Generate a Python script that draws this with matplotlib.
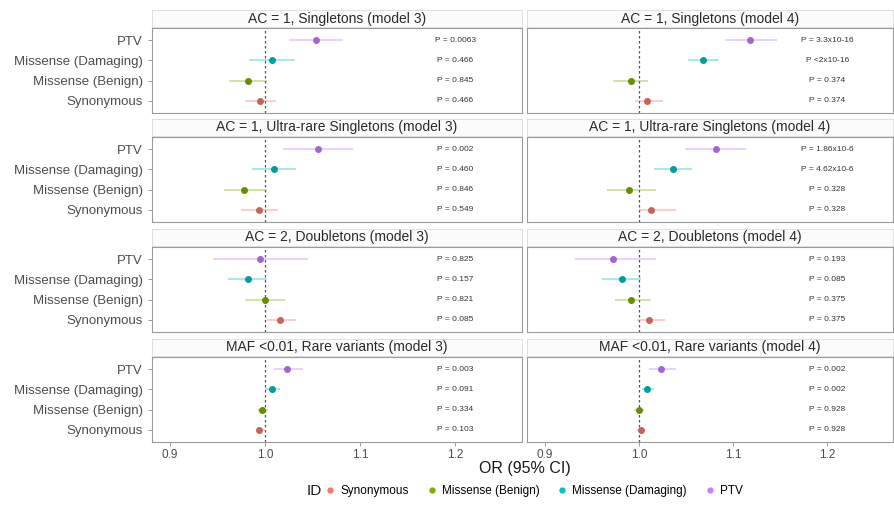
import matplotlib
matplotlib.use("Agg")
import matplotlib.pyplot as plt
from matplotlib.lines import Line2D
from matplotlib.colors import to_rgb

plt.rcParams['font.family'] = ['Liberation Sans', 'DejaVu Sans']

# categories, bottom to top
categories = ["Synonymous", "Missense (Benign)", "Missense (Damaging)", "PTV"]
colors = ["#F8766D", "#7CAE00", "#00BFC4", "#C77CFF"]

titles_m3 = ["AC = 1, Singletons (model 3)",
             "AC = 1, Ultra-rare Singletons (model 3)",
             "AC = 2, Doubletons (model 3)",
             "MAF <0.01, Rare variants (model 3)"]
titles_m4 = ["AC = 1, Singletons (model 4)",
             "AC = 1, Ultra-rare Singletons (model 4)",
             "AC = 2, Doubletons (model 4)",
             "MAF <0.01, Rare variants (model 4)"]

# odds ratios (Syn, Benign, Damaging, PTV)
or_single_m3 = [0.995, 0.982, 1.007, 1.053]
lo_single_m3 = [0.979, 0.962, 0.983, 1.025]
hi_single_m3 = [1.011, 1.002, 1.031, 1.082]
p_single_m3 = ["P = 0.466", "P = 0.845", "P = 0.466", "P = 0.0063"]

or_single_m4 = [1.009, 0.992, 1.068, 1.118]
lo_single_m4 = [0.996, 0.972, 1.052, 1.091]
hi_single_m4 = [1.026, 1.010, 1.085, 1.147]
p_single_m4 = ["P = 0.374", "P = 0.374", "P <2x10-16", "P = 3.3x10-16"]

or_ultra_m3 = [0.993, 0.978, 1.009, 1.055]
lo_ultra_m3 = [0.975, 0.957, 0.986, 1.019]
hi_ultra_m3 = [1.013, 1.002, 1.032, 1.092]
p_ultra_m3 = ["P = 0.549", "P = 0.846", "P = 0.460", "P = 0.002"]

or_ultra_m4 = [1.013, 0.989, 1.036, 1.082]
lo_ultra_m4 = [1.000, 0.966, 1.016, 1.049]
hi_ultra_m4 = [1.039, 1.018, 1.056, 1.114]
p_ultra_m4 = ["P = 0.328", "P = 0.328", "P = 4.62x10-6", "P = 1.86x10-6"]

or_double_m3 = [1.016, 1.000, 0.982, 0.995]
lo_double_m3 = [1.002, 0.979, 0.961, 0.945]
hi_double_m3 = [1.032, 1.021, 1.002, 1.045]
p_double_m3 = ["P = 0.085", "P = 0.821", "P = 0.157", "P = 0.825"]

or_double_m4 = [1.011, 0.992, 0.982, 0.972]
lo_double_m4 = [0.998, 0.974, 0.961, 0.932]
hi_double_m4 = [1.028, 1.013, 1.002, 1.018]
p_double_m4 = ["P = 0.375", "P = 0.375", "P = 0.085", "P = 0.193"]

or_rare_m3 = [0.994, 0.997, 1.007, 1.023]
lo_rare_m3 = [0.990, 0.992, 1.000, 1.009]
hi_rare_m3 = [1.000, 1.003, 1.016, 1.040]
p_rare_m3 = ["P = 0.103", "P = 0.334", "P = 0.091", "P = 0.003"]

or_rare_m4 = [1.002, 1.000, 1.009, 1.023]
lo_rare_m4 = [0.998, 0.995, 1.003, 1.011]
hi_rare_m4 = [1.005, 1.005, 1.016, 1.039]
p_rare_m4 = ["P = 0.928", "P = 0.928", "P = 0.002", "P = 0.002"]

left_panels = [(or_single_m3, lo_single_m3, hi_single_m3, p_single_m3),
               (or_ultra_m3, lo_ultra_m3, hi_ultra_m3, p_ultra_m3),
               (or_double_m3, lo_double_m3, hi_double_m3, p_double_m3),
               (or_rare_m3, lo_rare_m3, hi_rare_m3, p_rare_m3)]
right_panels = [(or_single_m4, lo_single_m4, hi_single_m4, p_single_m4),
                (or_ultra_m4, lo_ultra_m4, hi_ultra_m4, p_ultra_m4),
                (or_double_m4, lo_double_m4, hi_double_m4, p_double_m4),
                (or_rare_m4, lo_rare_m4, hi_rare_m4, p_rare_m4)]

W, H = 895, 505
fig = plt.figure(figsize=(W / 100, H / 100), dpi=100)


def rect(x0, y0, x1, y1):
    return [x0 / W, 1 - y1 / H, (x1 - x0) / W, (y1 - y0) / H]


def darker(c, f=0.82):
    return tuple(v * f for v in to_rgb(c))


rows_px = [(28, 113), (137, 222), (247, 332), (357, 442)]
cols_px = [(152, 522), (527, 893)]
border = "#9A9A9A"

for r, (y0, y1) in enumerate(rows_px):
    for c, (x0, x1) in enumerate(cols_px):
        ax = fig.add_axes(rect(x0, y0, x1, y1))
        data = left_panels[r] if c == 0 else right_panels[r]
        title = titles_m3[r] if c == 0 else titles_m4[r]
        ors, los, his, ps = data
        for i in range(4):
            ax.plot([los[i], his[i]], [i + 1, i + 1], color=colors[i],
                    lw=1.1, alpha=0.45, solid_capstyle='butt', zorder=2)
            ax.plot(ors[i], i + 1, 'o', color=darker(colors[i]), ms=4,
                    mec=darker(colors[i]), zorder=3)
            ax.text(1.2, i + 1, ps[i], fontsize=6, ha='center',
                    va='center', color='#333333')
        ax.axvline(1.0, color='#555555', lw=0.9, ls=(0, (2, 2)), zorder=1)
        ax.set_xlim(0.881, 1.27)
        ax.set_ylim(0.4, 4.6)
        ax.set_xticks([0.9, 1.0, 1.1, 1.2])
        ax.set_yticks([1, 2, 3, 4])
        for s in ax.spines.values():
            s.set_color(border)
            s.set_linewidth(0.8)
        ax.tick_params(colors=border, length=3, width=0.7,
                       labelcolor='#4D4D4D')
        if c == 0:
            ax.set_yticklabels(categories, fontsize=9.5)
        else:
            ax.tick_params(axis='y', length=0, labelleft=False)
        if r == 3:
            ax.set_xticklabels(["0.9", "1.0", "1.1", "1.2"], fontsize=8.5)
            ax.tick_params(axis='x', pad=2)
        else:
            ax.tick_params(axis='x', length=0, labelbottom=False)

        # facet strip
        sax = fig.add_axes(rect(x0, y0 - 18, x1, y0 - 1))
        sax.set_facecolor('#FBFBFB')
        sax.set_xticks([])
        sax.set_yticks([])
        for s in sax.spines.values():
            s.set_color('#DADADA')
            s.set_linewidth(0.6)
        sax.text(0.5, 0.5, title, transform=sax.transAxes, ha='center',
                 va='center', fontsize=10, color='#2A2A2A')

fig.text(525 / W, 1 - 468 / H, "OR (95% CI)", ha='center', va='center',
         fontsize=11.5, color='#1A1A1A')

fig.text(307 / W, 1 - 491 / H, "ID", ha='left', va='center',
         fontsize=11, color='#1A1A1A')
handles = [Line2D([0], [0], marker='o', ls='none', color=colors[i], ms=3.5)
           for i in range(4)]
fig.legend(handles, categories, loc='center left',
           bbox_to_anchor=(326 / W, 1 - 491 / H), ncol=4, frameon=False,
           fontsize=8.5, handlelength=0.7, handletextpad=0.5,
           columnspacing=1.6, borderpad=0, borderaxespad=0)

fig.savefig("out.png", dpi=100)
